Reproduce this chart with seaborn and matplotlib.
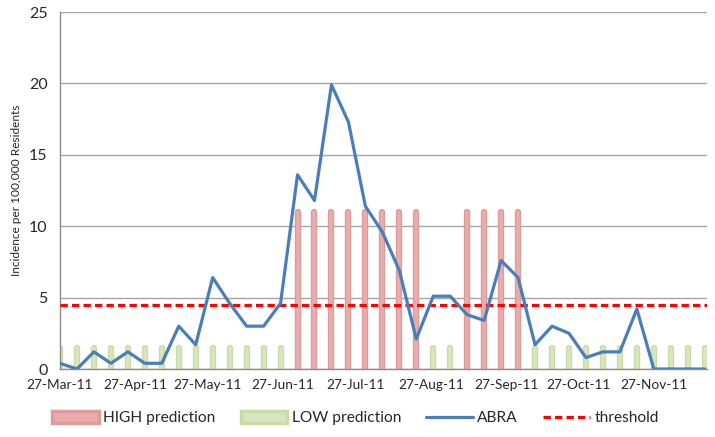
import numpy as np
import pandas as pd
import matplotlib
matplotlib.use("Agg")
import matplotlib.pyplot as plt
import matplotlib.dates as mdates
from matplotlib.patches import Patch
from matplotlib.lines import Line2D
import seaborn as sns

# ---------------- data ----------------
week_start = "2011-03-27"
n_weeks = 39
abra = [0.4, 0.0, 1.2, 0.4, 1.2, 0.4, 0.4, 3.0, 1.7, 6.4, 4.6, 3.0, 3.0, 4.6,
        13.6, 11.8, 19.9, 17.3, 11.4, 9.6, 6.9, 2.1, 5.1, 5.1, 3.8, 3.4, 7.6, 6.4,
        1.7, 3.0, 2.5, 0.8, 1.2, 1.2, 4.2, 0.0, 0.0, 0.0, 0.0]
prediction = (["LOW"] * 14 + ["HIGH"] * 8 + ["LOW"] * 2 + ["HIGH"] * 4 + ["LOW"] * 11)
high_level = 11.0
low_level = 1.5
threshold = 4.5
tick_dates = ["2011-03-27", "2011-04-27", "2011-05-27", "2011-06-27", "2011-07-27",
              "2011-08-27", "2011-09-27", "2011-10-27", "2011-11-27"]
legend_labels = ["HIGH prediction", "LOW prediction", "ABRA", "threshold"]
y_label = "Incidence per 100,000 Residents"

weeks = pd.date_range(week_start, periods=n_weeks, freq="7D")
df = pd.DataFrame({"week": weeks, "abra": abra, "pred": prediction})

# ---------------- style ----------------
sns.set_theme(style="white")
plt.rcParams["font.family"] = ["Lato", "DejaVu Sans"]

HIGH_EDGE, HIGH_FILL = "#dd9b9a", "#e8adac"
LOW_EDGE, LOW_FILL = "#cadca6", "#d8e5bd"
BLUE = "#4a7ebb"
RED = "#ff0000"
GRID = "#a6a6a6"
TXT = "#262626"

fig = plt.figure(figsize=(7.15, 4.37), dpi=100)
ax = fig.add_axes([0.0839, 0.1556, 0.9051, 0.8169])

# prediction bars (thick rounded lines)
for lvl, pred, edge, fill in [(high_level, "HIGH", HIGH_EDGE, HIGH_FILL),
                              (low_level, "LOW", LOW_EDGE, LOW_FILL)]:
    sub = df[df["pred"] == pred]
    for lw, col in [(4.6, edge), (2.6, fill)]:
        lc = ax.vlines(sub["week"], 0, lvl, colors=col, linewidth=lw, zorder=2)
        lc.set_capstyle("round")

# threshold
ax.axhline(threshold, color=RED, lw=2.3, linestyle=(0, (2.3, 1.3)), zorder=3)

# ABRA line
sns.lineplot(data=df, x="week", y="abra", ax=ax, color=BLUE, lw=2.3, zorder=4,
             solid_joinstyle="round", solid_capstyle="round")

# axes
ax.set_ylim(0, 25)
ax.set_yticks([0, 5, 10, 15, 20, 25])
ax.set_xlim(pd.Timestamp("2011-03-27"), pd.Timestamp("2011-12-19"))
ax.set_xticks(pd.to_datetime(tick_dates))
ax.xaxis.set_major_formatter(mdates.DateFormatter("%d-%b-%y"))
ax.yaxis.grid(True, color=GRID, lw=1.0, zorder=0)
ax.set_axisbelow(True)
for s in ["top", "right"]:
    ax.spines[s].set_visible(False)
for s in ["left", "bottom"]:
    ax.spines[s].set_color("#8c8c8c")
    ax.spines[s].set_linewidth(1.0)
ax.tick_params(axis="both", which="major", direction="out", length=4, width=1,
               color="#8c8c8c", labelcolor=TXT, pad=3)
ax.tick_params(axis="x", labelsize=9.8)
ax.tick_params(axis="y", labelsize=11.5, pad=5)
ax.set_xlabel("")
ax.set_ylabel(y_label, fontsize=8.6, color=TXT, labelpad=5)

# legend
handles = [
    Patch(facecolor=HIGH_FILL, edgecolor=HIGH_EDGE, linewidth=2.5),
    Patch(facecolor=LOW_FILL, edgecolor=LOW_EDGE, linewidth=2.5),
    Line2D([], [], color=BLUE, lw=2.3),
    Line2D([], [], color=RED, lw=2.3, linestyle=(0, (2.3, 1.3))),
]
fig.legend(handles, legend_labels, loc="center", bbox_to_anchor=(0.497, 0.043),
           ncol=4, frameon=False, fontsize=11.2, handlelength=3.0, handleheight=0.8,
           handletextpad=0.3, columnspacing=1.6, labelcolor=TXT)

fig.savefig("out.png", dpi=100)
